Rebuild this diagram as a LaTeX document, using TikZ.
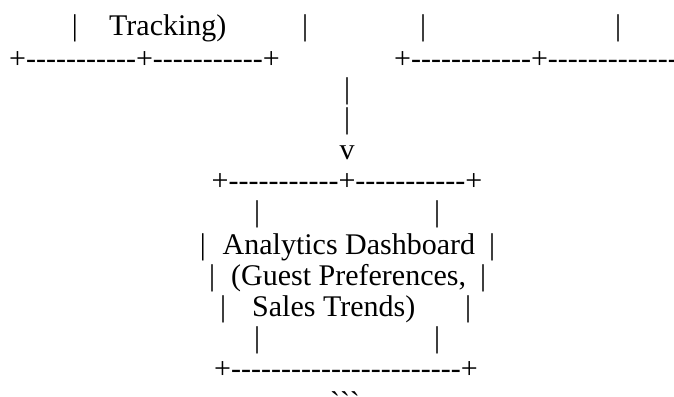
\documentclass[tikz,border=0pt]{standalone}
\usepackage{fontspec}
\newfontfamily\rawserif{Liberation Serif}

% a run of hyphens
\newcommand{\dashrun}[1]{\foreach \k in {1,...,#1}{-}}

\begin{document}
\begin{tikzpicture}[x=1pt, y=-1pt,
  every node/.style={font=\rawserif\fontsize{30}{31}\selectfont, inner sep=0pt, anchor=base}]
  \useasboundingbox (0,0) rectangle (674,396);

  % Top row (upper boxes, cut off)
  \node (barA) at (75,36) {|};
  \node[anchor=base west] (tracking) at (109,36) {Tracking)};
  \node (barB) at (305,36) {|};
  \node (barC) at (423,36) {|};
  \node (barD) at (618,36) {|};
  \node[anchor=base west] (leftbottom) at (9,68.5) {+\dashrun{11}+\dashrun{11}+};
  \node[anchor=base west] (rightbottom) at (394,68.5) {+\dashrun{12}+\dashrun{14}};

  % Link down to the dashboard
  \node (linkA) at (347,98.5) {|};
  \node (linkB) at (347,128.5) {|};
  \node (arrowhead) at (347,159.5) {v};

  % Analytics Dashboard box
  \node (dashtop) at (347,190.5) {+\dashrun{11}+\dashrun{11}+};
  \node (innerA) at (257,221.5) {|};
  \node (innerB) at (437,221.5) {|};
  \node (sideA) at (203,254) {|};
  \node[anchor=base west] (title) at (222.5,254) {Analytics Dashboard};
  \node (sideB) at (492,254) {|};
  \node (sideC) at (212,285) {|};
  \node[anchor=base west] (prefs) at (231,285) {(Guest Preferences,};
  \node (sideD) at (483,285) {|};
  \node (sideE) at (223,316) {|};
  \node[anchor=base west] (trends) at (252,316) {Sales Trends)};
  \node (sideF) at (468,316) {|};
  \node (innerC) at (257,347) {|};
  \node (innerD) at (437,347) {|};
  \node (dashbottom) at (346,378.5) {+\dashrun{23}+};
  \node (fence) at (345,412) {```};
\end{tikzpicture}
\end{document}
